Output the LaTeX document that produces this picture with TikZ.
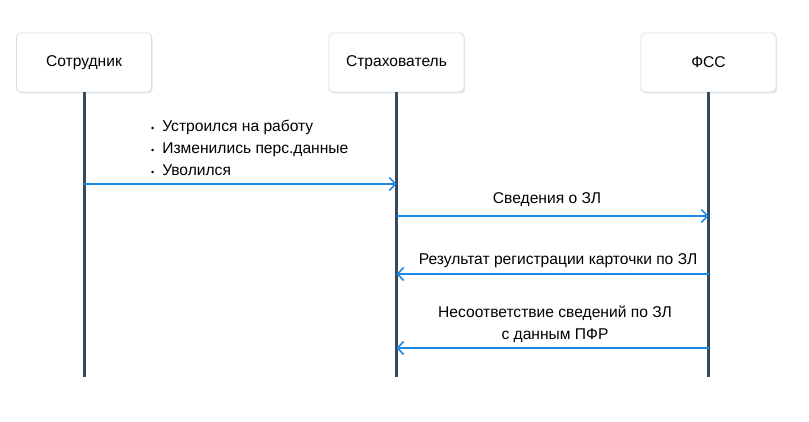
\documentclass[tikz,border=0pt]{standalone}
\usepackage{fontspec}
\setmainfont{Liberation Sans}
\usetikzlibrary{arrows.meta,shadows}
\definecolor{lifeline}{HTML}{34495E}
\definecolor{msgblue}{HTML}{1E88E5}
\definecolor{boxborder}{HTML}{DADDE0}
\tikzset{
	actor/.style={draw=boxborder, fill=white, rounded corners=4pt, line width=0.8pt,
		minimum width=135pt, minimum height=59pt,
		drop shadow={shadow xshift=1pt, shadow yshift=-1.5pt, fill=black!20, opacity=0.5}},
	life/.style={draw=lifeline, line width=3pt},
	msg/.style={draw=msgblue, line width=1.6pt, -{Straight Barb[length=6pt,width=13pt]}},
	msgtext/.style={inner sep=0pt, align=center}
}
\begin{document}
\begin{tikzpicture}[x=1pt,y=-1pt,font=\fontsize{15.6}{21.7}\selectfont]
				\useasboundingbox (0,0) rectangle (809,422);
				\pgfmathsetmacro\TOP{62.5}
				\pgfmathsetmacro\BOT{377}

				\node[actor] (sotr) at (84,\TOP) {Сотрудник};
				\node[actor] (strah) at (396.5,\TOP) {Страхователь};
				\node[actor] (fss) at (708.5,\TOP) {ФСС};

				\coordinate (sotrE) at (sotr.south |- 0,\BOT);
				\coordinate (strahE) at (strah.south |- 0,\BOT);
				\coordinate (fssE) at (fss.south |- 0,\BOT);
				\draw[life] (sotr.south) -- (sotrE);
				\draw[life] (strah.south) -- (strahE);
				\draw[life] (fss.south) -- (fssE);

				\coordinate (sotrA) at (sotr.south |- 0,184);
				\coordinate (strahA) at (strah.south |- 0,184);
				\coordinate (strahB) at (strah.south |- 0,216);
				\coordinate (fssB) at (fss.south |- 0,216);
				\coordinate (strahC) at (strah.south |- 0,274);
				\coordinate (fssC) at (fss.south |- 0,274);
				\coordinate (strahD) at (strah.south |- 0,348);
				\coordinate (fssD) at (fss.south |- 0,348);

				\draw[msg] (sotrA) -- (strahA);
				\draw[msg] (strahB) -- (fssB);
				\draw[msg] (fssC) -- (strahC);
				\draw[msg] (fssD) -- (strahD);

				\node[msgtext, anchor=west, align=left] (events) at (151,148) {%
					{\small•}\hspace{8pt}Устроился на работу\\
					{\small•}\hspace{8pt}Изменились перс.данные\\
					{\small•}\hspace{8pt}Уволился};
				\node[msgtext] (svedL) at (547,200) {Сведения о ЗЛ};
				\node[msgtext] (resL) at (558,261) {Результат регистрации карточки по ЗЛ};
				\node[msgtext] (nesL) at (555,324) {Несоответствие сведений по ЗЛ\\с данным ПФР};
			\end{tikzpicture}
\end{document}
